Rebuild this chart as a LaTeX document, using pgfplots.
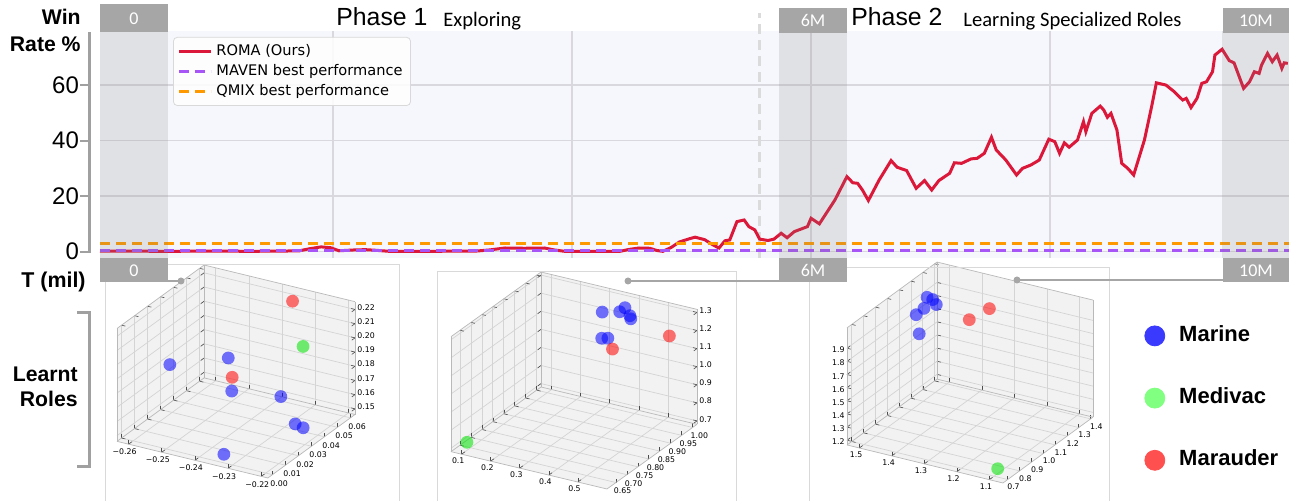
\documentclass[border=0pt]{standalone}
\usepackage{pgfplots}
\pgfplotsset{compat=1.18}
\usepackage{fontspec}
\setmainfont{Liberation Sans}
\newfontfamily\calibri{Carlito}
\newfontfamily\dejavu{DejaVu Sans}
\definecolor{bgc}{RGB}{246,247,252}
\definecolor{gridc}{RGB}{216,216,222}
\definecolor{romared}{RGB}{220,24,58}
\definecolor{mavenp}{RGB}{168,85,247}
\definecolor{qmixo}{RGB}{255,153,0}
\definecolor{boxgray}{RGB}{166,166,166}
\definecolor{spinegray}{RGB}{160,160,160}
\definecolor{paneg}{RGB}{242,242,242}
\definecolor{mgrid}{RGB}{212,212,212}
\definecolor{lblue}{RGB}{58,58,255}
\definecolor{lgreen}{RGB}{128,255,128}
\definecolor{lred}{RGB}{255,80,80}
\pgfplotsset{
  td/.style={
    view={30}{33}, scale only axis, scale mode=stretch to fill,
    scaled x ticks=false, scaled y ticks=false, scaled z ticks=false,
    grid=major, grid style={mgrid, line width=0.35pt},
    axis line style={gray!55, line width=0.35pt},
    tick style={black!70, line width=0.3pt}, major tick length=2pt,
    xtick pos=left, ytick pos=left,
    tick label style={font=\dejavu\fontsize{3.9}{4.5}\selectfont, inner sep=1pt},
    set layers, clip=false,
  },
  blu/.style={only marks, mark=*, mark size=3.2pt, color=blue, mark options={fill=blue, fill opacity=0.55, draw opacity=0}},
  grn/.style={only marks, mark=*, mark size=3.2pt, color=green!90!black, mark options={fill=green!90!black, fill opacity=0.55, draw opacity=0}},
  rd/.style={only marks, mark=*, mark size=3.2pt, color=red, mark options={fill=red, fill opacity=0.55, draw opacity=0}},
}
\begin{document}
\begin{tikzpicture}
% subplot frames
\begin{scope}[x=0.5pt,y=-0.5pt,shift={(0pt,250.5pt)}]
\draw[gray!30, line width=0.4pt] (105,264) rectangle (399,510);
\draw[gray!30, line width=0.4pt] (437,271) rectangle (736,510);
\draw[gray!30, line width=0.4pt] (809,267) rectangle (1109,510);
\end{scope}
%================ main axis
\begin{axis}[
  at={(50pt,121.5pt)}, anchor=south west, scale only axis,
  width=594.5pt, height=113.25pt,
  xmin=0.05, xmax=10, ymin=-2.3, ymax=79.3,
  axis line style={draw=none},
  axis background/.style={fill=bgc},
  grid=major, grid style={gridc, line width=0.6pt},
  xtick={2,4,6,8}, xticklabels={},
  ytick={0,20,40,60}, major tick length=0pt,
  /pgf/number format/assume math mode=true,
  yticklabel style={font=\fontsize{12}{14}\selectfont, xshift=-7pt},
  clip=false,
  legend style={at={(0.0614,0.976)}, anchor=north west,
    font=\dejavu\fontsize{7.3}{8.5}\selectfont, draw=gray!30, fill=white,
    fill opacity=0.85, text opacity=1, rounded corners=2pt,
    inner xsep=2pt, inner ysep=1.5pt, row sep=-1pt},
  legend cell align=left,
  legend image code/.code={\draw[#1] (0pt,0pt) -- (16pt,0pt);},
]
% dashed phase separator
\draw[gray!28, line width=1.8pt, dash pattern=on 5pt off 3pt] (axis cs:5.57,-2.3) -- (axis cs:5.57,86);
\addplot[romared, line width=1.5pt] coordinates {
(0.05,0.2) (0.62,0.1) (1.0,0.2) (1.3,0.1) (1.6,0.2) (1.72,0.3) (1.80,1.0) (1.90,1.7) (1.98,1.4) (2.05,0.3) (2.18,0.6) (2.27,0.7) (2.35,0.5) (2.47,0.1) (2.8,0.1) (3.2,0.2) (3.31,0.6) (3.44,1.3) (3.60,1.2) (3.77,1.3) (3.85,0.6) (3.94,0.1) (4.40,0.1) (4.48,0.8) (4.56,1.3) (4.65,1.2) (4.71,0.4) (4.76,0.1) (4.83,1.5) (4.90,3.5) (4.98,4.6) (5.03,5.2) (5.11,4.3) (5.18,2.4) (5.23,1.3) (5.28,3.9) (5.32,4.2) (5.38,10.8) (5.44,11.4) (5.48,9.0) (5.53,7.8) (5.57,4.5) (5.64,4.0) (5.69,4.5) (5.75,6.6) (5.80,5.0) (5.86,7.2) (5.97,9.0) (6.00,12.0) (6.07,10.0) (6.20,18.6) (6.30,27.0) (6.35,24.8) (6.39,24.6) (6.43,22.2) (6.48,18.4) (6.57,25.8) (6.67,32.8) (6.72,30.4) (6.80,29.2) (6.88,22.8) (6.95,25.6) (7.01,22.2) (7.07,25.6) (7.16,28.2) (7.20,32.0) (7.26,31.8) (7.34,33.4) (7.39,33.6) (7.45,35.4) (7.51,41.2) (7.55,36.6) (7.63,33.0) (7.72,27.6) (7.77,30.0) (7.84,31.2) (7.91,33.0) (7.99,40.5) (8.04,39.6) (8.08,35.4) (8.12,39.2) (8.16,37.6) (8.23,40.2) (8.28,46.8) (8.30,43.2) (8.35,49.8) (8.42,52.4) (8.45,51.0) (8.48,48.4) (8.51,49.8) (8.56,43.8) (8.60,31.8) (8.65,30.0) (8.70,27.6) (8.79,40.2) (8.85,52.2) (8.89,60.8) (8.97,60.0) (9.04,57.6) (9.11,54.6) (9.14,55.2) (9.18,51.9) (9.23,55.2) (9.27,60.6) (9.31,61.2) (9.36,64.8) (9.38,70.8) (9.44,72.9) (9.50,68.8) (9.54,68.0) (9.62,58.8) (9.67,61.2) (9.71,64.8) (9.75,64.2) (9.77,67.2) (9.82,71.4) (9.86,68.4) (9.90,70.8) (9.94,66.0) (9.96,68.0) (9.99,67.8)
};
\addlegendentry{ROMA (Ours)}
\addplot[mavenp, line width=1.5pt, dash pattern=on 5pt off 3pt] coordinates {(0.05,0.3) (10,0.3)};
\addlegendentry{MAVEN best performance}
\addplot[qmixo, line width=1.5pt, dash pattern=on 5pt off 3pt] coordinates {(0.05,2.9) (10,2.9)};
\addlegendentry{QMIX best performance}
% shaded bands
\fill[gray, fill opacity=0.18] (axis cs:0.05,-2.3) rectangle (axis cs:0.62,79.3);
\fill[gray, fill opacity=0.18] (axis cs:5.73,-2.3) rectangle (axis cs:6.30,79.3);
\fill[gray, fill opacity=0.18] (axis cs:9.44,-2.3) rectangle (axis cs:10,79.3);
% left spine and ticks
\draw[spinegray, line width=1.5pt] (axis cs:-0.042,-0.5) -- (axis cs:-0.042,79.1);
\draw[spinegray, line width=1pt] (axis cs:-0.117,0) -- (axis cs:-0.042,0);
\draw[spinegray, line width=1pt] (axis cs:-0.117,20) -- (axis cs:-0.042,20);
\draw[spinegray, line width=1pt] (axis cs:-0.117,40) -- (axis cs:-0.042,40);
\draw[spinegray, line width=1pt] (axis cs:-0.117,60) -- (axis cs:-0.042,60);
\end{axis}
%================ 3D plot 1 (T=0)
\begin{axis}[td,
  at={(58.5pt,11.5pt)}, anchor=south west, width=119pt, height=106.5pt,
  xmin=-0.2635, xmax=-0.218, ymin=-0.0035, ymax=0.0635, zmin=0.146, zmax=0.2255,
  xtick={-0.26,-0.25,-0.24,-0.23,-0.22}, xticklabels={−0.26,−0.25,−0.24,−0.23,−0.22},
  ytick={0,0.01,0.02,0.03,0.04,0.05,0.06}, yticklabels={0.00,0.01,0.02,0.03,0.04,0.05,0.06},
  ztick={0.15,0.16,0.17,0.18,0.19,0.20,0.21,0.22}, zticklabels={0.15,0.16,0.17,0.18,0.19,0.20,0.21,0.22},
  zticklabel pos=right, ztick pos=right,
]
\begin{pgfonlayer}{axis background}
\fill[paneg] (axis cs:-0.2635,-0.0035,0.146) -- (axis cs:-0.218,-0.0035,0.146) -- (axis cs:-0.218,0.0635,0.146) -- (axis cs:-0.2635,0.0635,0.146) -- cycle;
\fill[paneg] (axis cs:-0.2635,-0.0035,0.146) -- (axis cs:-0.2635,0.0635,0.146) -- (axis cs:-0.2635,0.0635,0.2255) -- (axis cs:-0.2635,-0.0035,0.2255) -- cycle;
\fill[paneg] (axis cs:-0.2635,0.0635,0.146) -- (axis cs:-0.218,0.0635,0.146) -- (axis cs:-0.218,0.0635,0.2255) -- (axis cs:-0.2635,0.0635,0.2255) -- cycle;
\end{pgfonlayer}
\addplot3[blu] coordinates {(-0.2607,0.030,0.1793) (-0.2457,0.0367,0.188) (-0.2394,0.0233,0.1772) (-0.2246,0.0233,0.1817) (-0.2216,0.0267,0.1619) (-0.2205,0.030,0.1576) (-0.2339,0.0032,0.1492)};
\addplot3[grn] coordinates {(-0.2284,0.0501,0.197)};
\addplot3[rd] coordinates {(-0.2342,0.0568,0.2211) (-0.2419,0.030,0.181)};
\end{axis}
%================ 3D plot 2 (T=6M)
\begin{axis}[td,
  at={(225.5pt,6pt)}, anchor=south west, width=123pt, height=108.5pt,
  xmin=0.0635, xmax=0.6, ymin=0.609, ymax=1.02, zmin=0.681, zmax=1.317,
  xtick={0.1,0.2,0.3,0.4,0.5}, xticklabels={0.1,0.2,0.3,0.4,0.5},
  ytick={0.65,0.70,0.75,0.80,0.85,0.90,0.95,1.00}, yticklabels={0.65,0.70,0.75,0.80,0.85,0.90,0.95,1.00},
  ztick={0.7,0.8,0.9,1.0,1.1,1.2,1.3}, zticklabels={0.7,0.8,0.9,1.0,1.1,1.2,1.3},
  zticklabel pos=right, ztick pos=right,
]
\begin{pgfonlayer}{axis background}
\fill[paneg] (axis cs:0.0635,0.609,0.681) -- (axis cs:0.6,0.609,0.681) -- (axis cs:0.6,1.02,0.681) -- (axis cs:0.0635,1.02,0.681) -- cycle;
\fill[paneg] (axis cs:0.0635,0.609,0.681) -- (axis cs:0.0635,1.02,0.681) -- (axis cs:0.0635,1.02,1.317) -- (axis cs:0.0635,0.609,1.317) -- cycle;
\fill[paneg] (axis cs:0.0635,1.02,0.681) -- (axis cs:0.6,1.02,0.681) -- (axis cs:0.6,1.02,1.317) -- (axis cs:0.0635,1.02,1.317) -- cycle;
\end{pgfonlayer}
\addplot3[blu] coordinates {(0.305,0.979,1.224) (0.365,0.979,1.249) (0.368,0.999,1.255) (0.416,0.958,1.265) (0.434,0.938,1.272) (0.334,0.938,1.126) (0.371,0.917,1.159)};
\addplot3[grn] coordinates {(0.1027,0.6296,0.730)};
\addplot3[rd] coordinates {(0.402,0.897,1.128) (0.536,0.979,1.181)};
\end{axis}
%================ 3D plot 3 (T=10M)
\begin{axis}[td,
  at={(423.5pt,9pt)}, anchor=south west, width=123pt, height=110.5pt,
  x dir=reverse,
  xmin=1.058, xmax=1.538, ymin=0.66, ymax=1.42, zmin=1.164, zmax=2.055,
  xtick={1.1,1.2,1.3,1.4,1.5}, xticklabels={1.1,1.2,1.3,1.4,1.5},
  ytick={0.7,0.8,0.9,1.0,1.1,1.2,1.3,1.4}, yticklabels={0.7,0.8,0.9,1.0,1.1,1.2,1.3,1.4},
  ztick={1.2,1.3,1.4,1.5,1.6,1.7,1.8,1.9}, zticklabels={1.2,1.3,1.4,1.5,1.6,1.7,1.8,1.9},
  ztick pos=left,
]
\begin{pgfonlayer}{axis background}
\fill[paneg] (axis cs:1.058,0.66,1.164) -- (axis cs:1.538,0.66,1.164) -- (axis cs:1.538,1.42,1.164) -- (axis cs:1.058,1.42,1.164) -- cycle;
\fill[paneg] (axis cs:1.538,0.66,1.164) -- (axis cs:1.538,1.42,1.164) -- (axis cs:1.538,1.42,2.055) -- (axis cs:1.538,0.66,2.055) -- cycle;
\fill[paneg] (axis cs:1.058,1.42,1.164) -- (axis cs:1.538,1.42,1.164) -- (axis cs:1.538,1.42,2.055) -- (axis cs:1.058,1.42,2.055) -- cycle;
\end{pgfonlayer}
\addplot3[blu] coordinates {(1.527,1.306,1.868) (1.496,1.268,1.895) (1.471,1.23,1.897) (1.509,1.23,1.845) (1.519,1.192,1.816) (1.482,1.116,1.743)};
\addplot3[grn] coordinates {(1.102,0.736,1.196)};
\addplot3[rd] coordinates {(1.411,1.344,1.743) (1.363,1.382,1.831)};
\end{axis}
%================ role legend
\begin{axis}[
  at={(572pt,88pt)}, anchor=north west, scale only axis, width=60pt, height=60pt,
  hide axis, xmin=0, xmax=1, ymin=0, ymax=1,
  legend style={at={(0,1)}, anchor=north west, draw=none, fill=none,
    font=\bfseries\fontsize{11}{13}\selectfont, row sep=20.6pt, inner sep=0pt,
    nodes={inner sep=0pt, text height=8pt, text depth=2.5pt},
    /tikz/column sep=7pt},
  legend cell align=left,
]
\addlegendimage{legend image code/.code={\fill[lblue] (5pt,0pt) circle (5pt);}}
\addlegendentry{Marine}
\addlegendimage{legend image code/.code={\fill[lgreen] (5pt,0pt) circle (5pt);}}
\addlegendentry{Medivac}
\addlegendimage{legend image code/.code={\fill[lred] (5pt,0pt) circle (5pt);}}
\addlegendentry{Marauder}
\end{axis}
%================ annotations
\begin{scope}[x=0.5pt,y=-0.5pt,shift={(0pt,250.5pt)}, every node/.style={inner sep=0pt}]
\node[anchor=base east, font=\bfseries\fontsize{10.6}{12}\selectfont] at (81,25) {Win};
\node[anchor=base east, font=\bfseries\fontsize{10.6}{12}\selectfont] at (81,52) {Rate \%};
\node[anchor=base east, font=\bfseries\fontsize{10.7}{12}\selectfont] at (86,288) {T (mil)};
\node[anchor=base east, font=\bfseries\fontsize{10.6}{12}\selectfont] at (78,382) {Learnt};
\node[anchor=base east, font=\bfseries\fontsize{10.6}{12}\selectfont] at (78,407) {Roles};
\draw[spinegray, line width=1.5pt] (77,313) -- (89,313) -- (89,467) -- (77,467);
\node[anchor=base west, font=\fontsize{12.4}{14}\selectfont] at (336,26) {Phase 1};
\node[anchor=base west, font=\calibri\fontsize{10.3}{12}\selectfont] at (443,27) {Exploring};
\node[anchor=base west, font=\fontsize{12.4}{14}\selectfont] at (851,26) {Phase 2};
\node[anchor=base west, font=\calibri\fontsize{10.3}{12}\selectfont] at (963,27) {Learning Specialized Roles};
% label boxes
\fill[boxgray] (100,4) rectangle (168,32);
\node[white, font=\calibri\fontsize{9}{10}\selectfont] at (134,18.5) {0};
\fill[boxgray] (779,8) rectangle (847,33);
\node[white, font=\calibri\fontsize{9}{10}\selectfont] at (813,21) {6M};
\fill[boxgray] (1223,8) rectangle (1289,33);
\node[white, font=\calibri\fontsize{9}{10}\selectfont] at (1256,21) {10M};
\fill[boxgray] (100,258) rectangle (168,282);
\node[white, font=\calibri\fontsize{9}{10}\selectfont] at (134,270.5) {0};
\fill[boxgray] (779,258) rectangle (847,282);
\node[white, font=\calibri\fontsize{9}{10}\selectfont] at (813,270.5) {6M};
\fill[boxgray] (1223,258) rectangle (1289,282);
\node[white, font=\calibri\fontsize{9}{10}\selectfont] at (1256,270.5) {10M};
% connectors
\draw[boxgray, line width=1.1pt] (166,281) -- (181,281);
\fill[boxgray] (181,281) circle (3.5);
\draw[boxgray, line width=1.1pt] (781,281) -- (628,281);
\fill[boxgray] (628,281) circle (3.5);
\draw[boxgray, line width=1.1pt] (1225,280) -- (1017,280);
\fill[boxgray] (1017,280) circle (3.5);
\end{scope}
\pgfresetboundingbox
\useasboundingbox (0,0) rectangle (644.5pt,250.5pt);
\end{tikzpicture}
\end{document}
